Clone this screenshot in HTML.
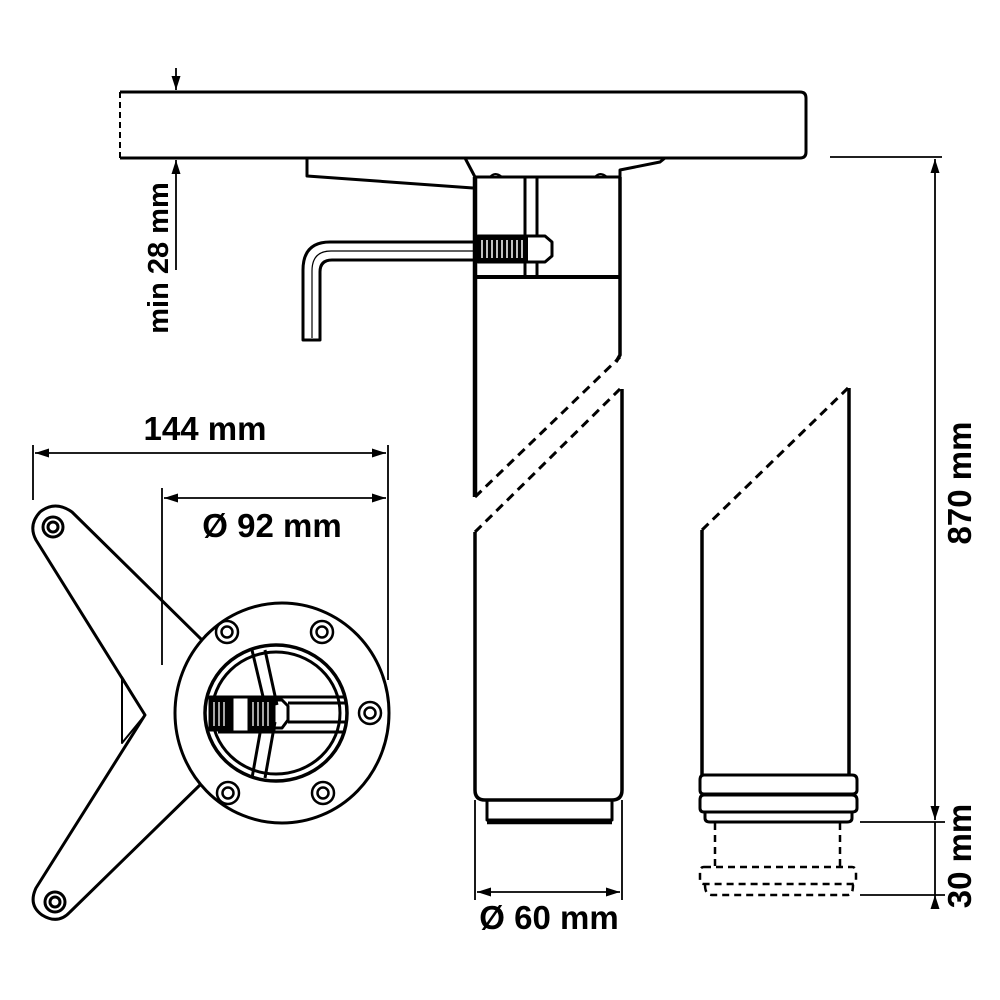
<!DOCTYPE html>
<html><head><meta charset="utf-8"><style>
html,body{margin:0;padding:0;background:#fff;}
svg{display:block;}
text{font-family:"Liberation Sans",Arial,sans-serif;font-weight:bold;font-size:33px;fill:#000;}
</style></head><body>
<svg width="1000" height="1000" viewBox="0 0 1000 1000" xmlns="http://www.w3.org/2000/svg">
<defs>
<marker id="a" viewBox="0 0 14 9" refX="14" refY="4.5" markerWidth="14" markerHeight="9" orient="auto-start-reverse" markerUnits="userSpaceOnUse"><path d="M0,0 L14,4.5 L0,9 Z" fill="#000"/></marker>
</defs>
<g fill="none" stroke="#000" stroke-width="3" stroke-linejoin="round">
<path d="M120,92 H800 Q806,92 806,98 V152 Q806,158 800,158 H120"/>
<path d="M120,92 V158" stroke-dasharray="6,4" stroke-width="2"/>
<path d="M307,158 V176 L473,188"/>
<path d="M465,158 L475,177 H620 L620,170 L660,162 L665,158"/>
<path d="M490,177 q5,-6 12,0 M595,177 q5,-6 12,0" stroke-width="2"/>
<path d="M475,177 V497" stroke-width="4.5"/>
<path d="M620,177 V355 L616,362" stroke-width="3.5"/>
<path d="M525,177 V277 M537,177 V277" />
<path d="M475,277 H620" stroke-width="4"/>
<rect x="478" y="236" width="50" height="26" fill="#000"/>
<path d="M482,240 V258 M487,240 V258 M492,240 V258 M497,240 V258 M502,240 V258 M507,240 V258 M512,240 V258 M517,240 V258 M522,240 V258" stroke="#fff" stroke-width="1.5"/>
<path d="M528,236 H545 L552,242 V256 L545,262 H528" fill="#fff"/>
<path d="M475,242 H330 Q303,242 303,270 V340 H320 V272 Q320,260 332,260 H475"/>
<path d="M475,251 H331 Q312,251 312,271 V338" stroke-width="1.2"/>
<path d="M475,497 L620,357" stroke-dasharray="9,6"/>
<path d="M475,532 L620,389" stroke-dasharray="9,6"/>
<path d="M475,532 V790 Q475,800 485,800 H612 Q622,800 622,790 V389" stroke-width="3.5"/>
<path d="M487,800 V820 H612 V800"/>
<path d="M487,822 H612" stroke-width="4.5"/>
<path d="M702,530 L848,388" stroke-dasharray="9,6"/>
<path d="M702,530 V775 M849,388 V775" stroke-width="3.5"/>
<path d="M704,775 H852 Q857,775 857,780 V790 Q857,794 852,794 H704 Q700,794 700,790 V780 Q700,775 704,775 Z"/>
<path d="M704,795 H852 Q857,795 857,800 V808 Q857,812 852,812 H704 Q700,812 700,808 V800 Q700,795 704,795 Z"/>
<path d="M705,812 V818 Q705,822 710,822 H847 Q852,822 852,818 V812"/>
<g stroke-dasharray="7,5" stroke-width="2.5">
<path d="M715,823 V866 M840,823 V866"/>
<path d="M704,867 H852 Q856,867 856,872 V880 Q856,884 852,884 H704 Q700,884 700,880 V872 Q700,867 704,867 Z"/>
<path d="M705,885 Q705,895 712,895 H848 Q853,895 853,885"/>
</g>
<g stroke-width="1.8">
<path d="M830,157 H942 M860,822 H945 M860,895 H945"/>
<path d="M935,159 V820" marker-start="url(#a)" marker-end="url(#a)"/>
<path d="M935,895 V908" marker-start="url(#a)"/>
<path d="M935,822 V895"/>
<path d="M475,800 V900 M622,800 V900"/>
<path d="M477,892 H620" marker-start="url(#a)" marker-end="url(#a)"/>
<path d="M176,68 V90" marker-end="url(#a)"/>
<path d="M176,270 V160" marker-end="url(#a)"/>
<path d="M33,445 V500 M388,445 V680 M162,488 V665"/>
<path d="M35,453 H386" marker-start="url(#a)" marker-end="url(#a)"/>
<path d="M164,498 H386" marker-start="url(#a)" marker-end="url(#a)"/>
</g>
<path d="M202,640 L72,512 Q55,500 40,512 Q28,525 36,540 L145,715 L36,888 Q28,905 42,915 Q58,925 70,912 L202,783"/>
<path d="M122,677 L145,715 L122,743 Z" stroke-width="2"/>
<circle cx="53" cy="527" r="10"/><circle cx="53" cy="527" r="5"/>
<circle cx="55" cy="902" r="10"/><circle cx="55" cy="902" r="5"/>
<ellipse cx="282" cy="713" rx="107" ry="110" fill="#fff"/>
<ellipse cx="276" cy="713" rx="71" ry="68" stroke-width="3.5"/>
<ellipse cx="276" cy="713" rx="64" ry="61"/>
<g stroke-width="2.5">
<circle cx="227" cy="632" r="11"/><circle cx="227" cy="632" r="5.5"/>
<circle cx="322" cy="632" r="11"/><circle cx="322" cy="632" r="5.5"/>
<circle cx="370" cy="713" r="11"/><circle cx="370" cy="713" r="5.5"/>
<circle cx="228" cy="793" r="11"/><circle cx="228" cy="793" r="5.5"/>
<circle cx="323" cy="793" r="11"/><circle cx="323" cy="793" r="5.5"/>
</g>
<path d="M252,650 L265,705 M265,650 L277,705"/>
<path d="M262,722 L252,778 M275,722 L265,778"/>
<path d="M218,697 H345 M218,732 H345"/>
<path d="M288,703 H345 M288,722 H345"/>
<rect x="210" y="697" width="22" height="33" fill="#000"/>
<rect x="249" y="697" width="25" height="33" fill="#000"/>
<path d="M214,702 V726 M219,702 V726 M224,702 V726 M253,702 V726 M258,702 V726 M263,702 V726 M268,702 V726" stroke="#fff" stroke-width="1.3"/>
<path d="M274,700 H282 L288,706 V720 L282,728 H274"/>
</g>
<text x="205" y="440" text-anchor="middle">144 mm</text>
<text x="272" y="537" text-anchor="middle">Ø 92 mm</text>
<text x="549" y="929" text-anchor="middle">Ø 60 mm</text>
<text transform="translate(168,258) rotate(-90)" text-anchor="middle" style="font-size:29px">min 28 mm</text>
<text transform="translate(971,483) rotate(-90)" text-anchor="middle">870 mm</text>
<text transform="translate(971,856) rotate(-90)" text-anchor="middle">30 mm</text>
</svg>
</body></html>
